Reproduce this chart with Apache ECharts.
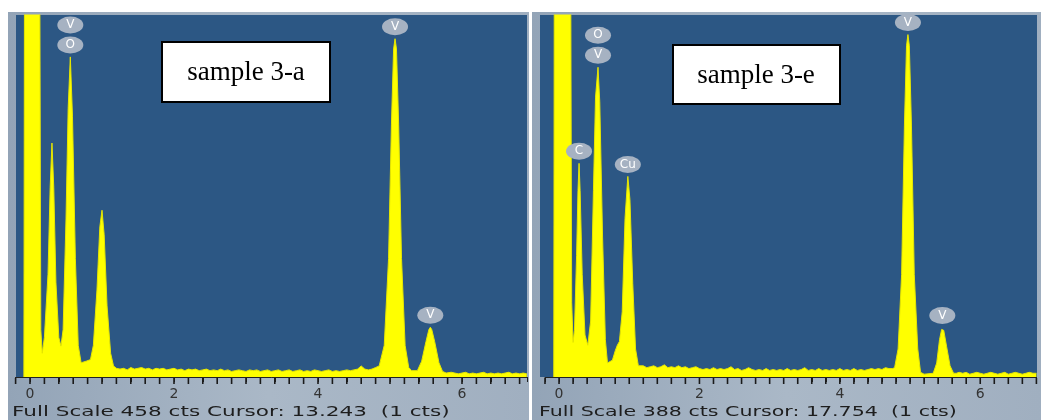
<!DOCTYPE html>
<html>
<head>
<meta charset="utf-8">
<script src="https://cdn.jsdelivr.net/npm/echarts@6/dist/echarts.min.js"></script>
<style>html,body{margin:0;padding:0;background:#fff;}#chart{width:1041px;height:420px;}</style>
</head>
<body>
<div id="chart"></div>
<script>
// ---------- DATA ----------
const leftTitle = 'sample 3-a';
const rightTitle = 'sample 3-e';
const leftFooter = 'Full Scale 458 cts Cursor: 13.243  (1 cts)';
const rightFooter = 'Full Scale 388 cts Cursor: 17.754  (1 cts)';
const tickLabels = [0, 2, 4, 6];
const tickMarks = [-0.2,0,0.2,0.4,0.6,0.8,1,1.2,1.4,1.6,1.8,2,2.2,2.4,2.6,2.8,3,3.2,3.4,3.6,3.8,4,4.2,4.4,4.6,4.8,5,5.2,5.4,5.6,5.8,6,6.2,6.4,6.6,6.8];
const leftFullScale = 458;
const rightFullScale = 388;

// [energy keV, counts]
const leftSpectrum = [
  [-0.085,0],[-0.07,900],[-0.05,1500],[0.10,1500],[0.13,700],[0.15,60],[0.17,30],
  [0.20,50],[0.25,130],[0.28,240],[0.305,296],[0.33,240],[0.36,120],[0.40,50],[0.43,39],
  [0.46,60],[0.50,200],[0.53,340],[0.56,405],[0.59,330],[0.63,150],[0.67,40],[0.71,18],[0.78,20],[0.84,22],
  [0.88,40],[0.93,110],[0.97,190],[1.00,211],[1.03,180],[1.07,90],[1.12,30],[1.16,14],
  [1.20,11],[1.25,10],[1.30,11],[1.35,9],[1.40,12],[1.45,10],[1.50,11],[1.55,12],[1.60,10],[1.65,11],[1.70,9],[1.75,11],[1.80,10],[1.85,11],[1.90,9],[1.95,10],
  [2.00,11],[2.05,9],[2.10,10],[2.15,8],[2.20,10],[2.25,9],[2.30,10],[2.35,8],[2.40,9],[2.45,10],[2.50,8],[2.55,9],[2.60,8],[2.65,10],[2.70,8],[2.75,9],[2.80,7],[2.85,8],[2.90,9],[2.95,8],
  [3.00,7],[3.05,9],[3.10,8],[3.15,9],[3.20,7],[3.25,8],[3.30,9],[3.35,7],[3.40,8],[3.45,9],[3.50,7],[3.55,8],[3.60,9],[3.65,7],[3.70,8],[3.75,9],[3.80,7],[3.85,8],[3.90,7],[3.95,9],
  [4.00,8],[4.05,7],[4.10,8],[4.15,9],[4.20,7],[4.25,8],[4.30,7],[4.35,8],[4.40,9],[4.45,8],[4.50,9],[4.55,10],[4.60,14],[4.65,10],[4.70,9],[4.75,10],[4.80,12],
  [4.85,14],[4.92,40],[4.98,150],[5.02,320],[5.05,415],[5.07,428],[5.09,415],[5.12,320],[5.16,150],[5.21,40],[5.26,12],[5.30,8],
  [5.38,8],[5.44,20],[5.50,45],[5.54,60],[5.56,63],[5.58,60],[5.62,45],[5.68,18],[5.73,7],
  [5.78,5],[5.85,6],[5.90,5],[5.95,4],[6.00,5],[6.05,6],[6.10,4],[6.15,5],[6.20,4],[6.25,5],[6.30,6],[6.35,4],[6.40,5],[6.45,4],[6.50,5],[6.55,4],[6.60,5],[6.65,6],[6.70,4],[6.75,5],[6.80,4],[6.85,5],[6.90,4]
];

const rightSpectrum = [
  [-0.075,0],[-0.06,900],[-0.04,1300],[0.12,1300],[0.16,600],[0.18,80],[0.20,37],
  [0.22,50],[0.25,130],[0.27,200],[0.285,229],[0.30,200],[0.33,110],[0.37,45],[0.41,34],
  [0.45,60],[0.49,200],[0.52,300],[0.555,332],[0.58,295],[0.62,150],[0.66,40],[0.69,15],
  [0.76,18],[0.80,28],[0.83,34],[0.86,38],
  [0.90,70],[0.94,170],[0.98,215],[1.01,190],[1.05,100],[1.09,30],[1.13,12],
  [1.15,11],[1.20,12],[1.25,10],[1.30,11],[1.35,12],[1.40,10],[1.45,11],[1.50,13],[1.55,10],[1.60,11],[1.65,10],[1.70,12],[1.75,10],[1.80,11],[1.85,9],[1.90,10],[1.95,11],
  [2.00,9],[2.05,8],[2.10,9],[2.15,8],[2.20,10],[2.25,8],[2.30,9],[2.35,8],[2.40,9],[2.45,11],[2.50,8],[2.55,9],[2.60,7],[2.65,8],[2.70,10],[2.75,8],[2.80,7],[2.85,8],[2.90,7],[2.95,9],
  [3.00,7],[3.05,8],[3.10,7],[3.15,8],[3.20,7],[3.25,9],[3.30,7],[3.35,8],[3.40,7],[3.45,8],[3.50,10],[3.55,7],[3.60,8],[3.65,7],[3.70,9],[3.75,7],[3.80,8],[3.85,7],[3.90,8],[3.95,7],
  [4.00,9],[4.05,7],[4.10,8],[4.15,7],[4.20,9],[4.25,7],[4.30,8],[4.35,7],[4.40,8],[4.45,9],[4.50,8],[4.55,9],[4.60,8],[4.65,10],[4.70,9],[4.75,9],
  [4.78,10],[4.83,30],[4.88,110],[4.92,270],[4.95,355],[4.97,367],[4.99,355],[5.02,270],[5.06,110],[5.11,30],[5.15,5],[5.20,3],
  [5.33,4],[5.38,15],[5.42,40],[5.45,51],[5.46,53],[5.48,50],[5.52,33],[5.57,12],[5.62,4],
  [5.66,4],[5.70,5],[5.75,4],[5.80,5],[5.85,3],[5.90,4],[5.95,5],[6.00,4],[6.05,3],[6.10,4],[6.15,5],[6.20,4],[6.25,3],[6.30,4],[6.35,5],[6.40,3],[6.45,4],[6.50,5],[6.55,4],[6.60,3],[6.65,4],[6.70,5],[6.75,4],[6.80,4]
];

// element markers: [element, energy, peak counts]
const leftMarkers = [['O',0.56,405],['V',0.56,405],['V',5.07,428],['V',5.56,63]];
const rightMarkers = [['V',0.555,332],['O',0.555,332],['C',0.285,229],['Cu',0.98,215],['V',4.97,367],['V',5.46,53]];

// ---------- CHART ----------
const chart = echarts.init(document.getElementById('chart'), null, {renderer:'canvas'});
const FONT = '"DejaVu Sans", Verdana, sans-serif';

function markerData(list){
  return list.map((m, i) => {
    let level = 0;
    for (let j = 0; j < i; j++) if (list[j][1] === m[1]) level++;
    return {name: m[0], value: [m[1], m[2]], symbolOffset: [0, -12 - level * 20]};
  });
}

function labelFor(v){
  const r = Math.round(v);
  return (Math.abs(v - r) < 1e-6 && tickLabels.indexOf(r) >= 0) ? String(r) : '';
}

function xAxis(gi, min, max){
  return {
    type:'value', gridIndex:gi, min:min, max:max, interval:0.2,
    axisLine:{show:true, lineStyle:{color:'#222', width:1}},
    axisTick:{show:true, interval:0, length:5, lineStyle:{color:'#222', width:1}},
    splitLine:{show:false},
    axisLabel:{
      show:true, interval:0, margin:10, color:'#333', fontSize:14, fontFamily:FONT,
      hideOverlap:false, showMinLabel:true, showMaxLabel:true,
      formatter: labelFor
    }
  };
}
function yAxis(gi, max){
  return {type:'value', gridIndex:gi, min:0, max:max, show:false, splitLine:{show:false}};
}
function spectrumSeries(idx, data){
  return {
    type:'line', xAxisIndex:idx, yAxisIndex:idx, data:data, symbol:'none', clip:true,
    lineStyle:{color:'#e6e600', width:1}, areaStyle:{color:'#ffff00', opacity:1},
    smooth:false, z:2, silent:true
  };
}
function markerSeries(idx, list){
  return {
    type:'scatter', xAxisIndex:idx, yAxisIndex:idx, data:markerData(list),
    symbol:'circle', symbolSize:[26,17], itemStyle:{color:'#a6b2c2', opacity:1},
    label:{show:true, position:'inside', formatter:'{b}', color:'#ffffff', fontSize:12, fontFamily:FONT},
    z:5, silent:true
  };
}
function tickSeries(idx, max){
  return {
    type:'scatter', xAxisIndex:idx, yAxisIndex:idx, clip:false, silent:true,
    data: tickMarks.filter(t => t <= max + 1e-9).map(t => [t, 0]),
    symbol:'rect', symbolSize:[1.6,6], symbolOffset:[0, 4],
    itemStyle:{color:'#1a1a1a', opacity:1}, z:6
  };
}

const panelFill = () => new echarts.graphic.LinearGradient(0,0,1,0,[{offset:0,color:'#93a4b7'},{offset:0.5,color:'#aab8c7'},{offset:1,color:'#a0afc0'}]);
const PLOT_BG = '#2c5784';

const option = {
  backgroundColor:'#ffffff',
  animation:false,
  grid:[
    {left:15.6, top:15, width:511.2, height:362, show:false, containLabel:false},
    {left:545, top:15, width:491.4, height:362, show:false, containLabel:false}
  ],
  xAxis:[xAxis(0, -0.2, 6.9), xAxis(1, -0.2, 6.8)],
  yAxis:[yAxis(0, leftFullScale), yAxis(1, rightFullScale)],
  series:[
    spectrumSeries(0, leftSpectrum),
    spectrumSeries(1, rightSpectrum),
    markerSeries(0, leftMarkers),
    markerSeries(1, rightMarkers),
    tickSeries(0, 6.9),
    tickSeries(1, 6.8)
  ],
  graphic:[
    {type:'rect', z:-10, shape:{x:8, y:12, width:521, height:408}, style:{fill:panelFill()}, silent:true},
    {type:'rect', z:-10, shape:{x:532, y:12, width:509, height:408}, style:{fill:panelFill()}, silent:true},
    {type:'rect', z:-9, shape:{x:16, y:15, width:511, height:362}, style:{fill:PLOT_BG}, silent:true},
    {type:'rect', z:-9, shape:{x:540, y:15, width:497, height:362}, style:{fill:PLOT_BG}, silent:true},
    {type:'rect', z:100, shape:{x:162, y:42, width:168, height:60}, style:{fill:'#ffffff', stroke:'#000', lineWidth:2}},
    {type:'text', z:101, x:246, y:73, style:{text:leftTitle, font:'27px "Liberation Serif", "Times New Roman", serif', fill:'#000', align:'center', verticalAlign:'middle'}},
    {type:'rect', z:100, shape:{x:673, y:45, width:167, height:59}, style:{fill:'#ffffff', stroke:'#000', lineWidth:2}},
    {type:'text', z:101, x:756, y:76, style:{text:rightTitle, font:'27px "Liberation Serif", "Times New Roman", serif', fill:'#000', align:'center', verticalAlign:'middle'}},
    {type:'text', z:101, x:12, y:412, scaleX:1.54, style:{text:leftFooter, font:'14px ' + FONT, fill:'#1e1e1e', verticalAlign:'middle'}},
    {type:'text', z:101, x:539, y:412, scaleX:1.47, style:{text:rightFooter, font:'14px ' + FONT, fill:'#1e1e1e', verticalAlign:'middle'}}
  ]
};
chart.setOption(option);
</script>
</body>
</html>
